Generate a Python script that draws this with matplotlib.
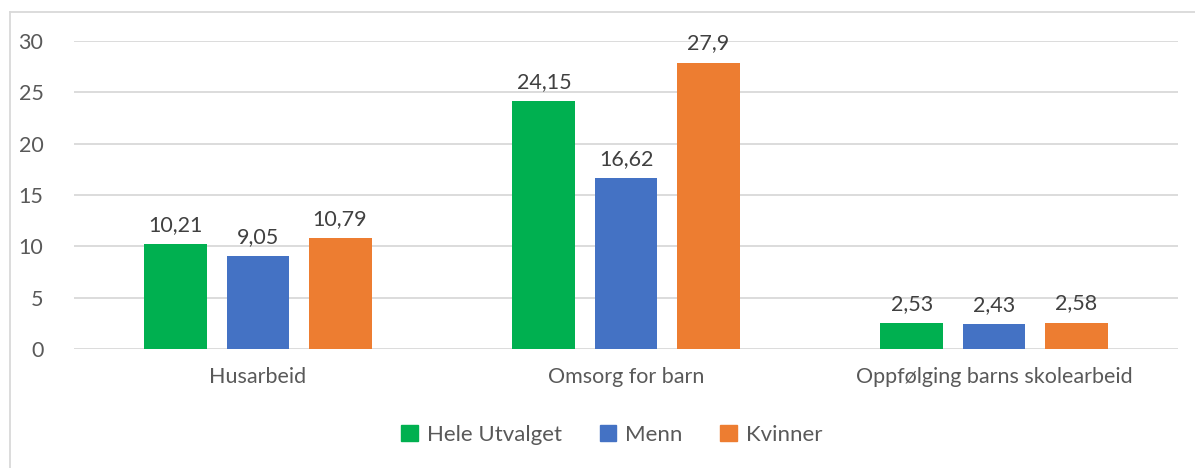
import matplotlib.pyplot as plt
import numpy as np
from matplotlib.lines import Line2D

categories = ['Husarbeid', 'Omsorg for barn', 'Oppfølging barns skolearbeid']
series_names = ['Hele Utvalget', 'Menn', 'Kvinner']
hele = [10.21, 24.15, 2.53]
menn = [9.05, 16.62, 2.43]
kvinner = [10.79, 27.9, 2.58]
colors = ['#00B050', '#4472C4', '#ED7D31']

plt.rcParams['font.family'] = ['Lato', 'DejaVu Sans']
txt = '#595959'

fig = plt.figure(figsize=(11.95, 4.68), dpi=100)
ax = fig.add_axes([74/1195, 1-349/468, (1178-74)/1195, (349-41)/468])

x = np.arange(len(categories))
width = 0.171
step = 0.223
for i, (vals, name) in enumerate(zip([hele, menn, kvinner], series_names)):
    pos = x + (i - 1) * step
    ax.bar(pos, vals, width, color=colors[i], label=name, zorder=3)
    for p, v in zip(pos, vals):
        ax.text(p, v + 0.9, str(v).replace('.', ','), ha='center', va='bottom',
                fontsize=15.5, color='#404040')

ax.set_xlim(-0.5, 2.5)
ax.set_ylim(0, 30)
ax.set_yticks(range(0, 31, 5))
ax.grid(axis='y', color='#d9d9d9', linewidth=1.3, zorder=0)
ax.set_axisbelow(True)
for s in ax.spines.values():
    s.set_visible(False)
ax.tick_params(axis='both', length=0, labelsize=15.5, labelcolor=txt)
ax.tick_params(axis='y', pad=22)
ax.tick_params(axis='x', pad=13)
ax.set_xticks(x)
ax.set_xticklabels(categories)

handles = [plt.Rectangle((0, 0), 1, 1, color=c) for c in colors]
leg = fig.legend(handles, series_names, loc='center', bbox_to_anchor=(612/1195, 1-435/468),
                 ncol=3, frameon=False, fontsize=16, handlelength=0.75, handleheight=0.75,
                 handletextpad=0.4, columnspacing=1.7)
for t in leg.get_texts():
    t.set_color(txt)

# chart frame (top and left edges visible)
fig.add_artist(Line2D([9.5/1195, 1], [1-11.5/468, 1-11.5/468], color='#d9d9d9', linewidth=1.3))
fig.add_artist(Line2D([9.5/1195, 9.5/1195], [0, 1-11.5/468], color='#d9d9d9', linewidth=1.3))

fig.savefig('out.png', dpi=100)
